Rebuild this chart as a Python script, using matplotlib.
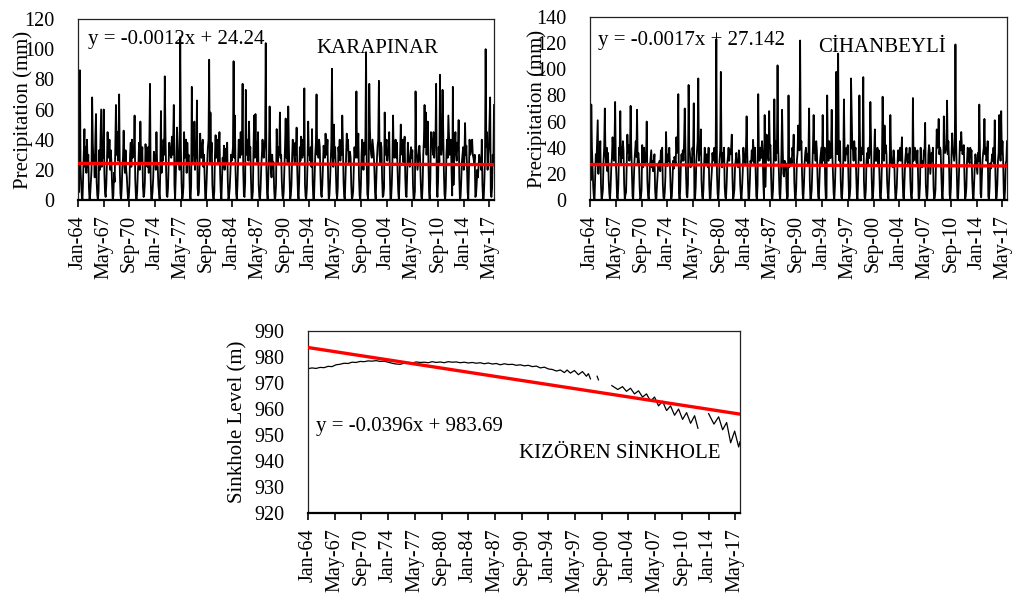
import numpy as np
import matplotlib
matplotlib.use("Agg")
import matplotlib.pyplot as plt

plt.rcParams['font.family'] = ['Liberation Serif', 'DejaVu Serif']

# ---------------- DATA ----------------
tick_labels = ["Jan-64", "May-67", "Sep-70", "Jan-74", "May-77", "Sep-80", "Jan-84",
               "May-87", "Sep-90", "Jan-94", "May-97", "Sep-00", "Jan-04", "May-07",
               "Sep-10", "Jan-14", "May-17"]
tick_step = 40  # months between labelled ticks

karapinar = [
    [57, 5, 30, 86, 20, 10, 2, 0, 15, 28, 47, 22],      # 1964
    [35, 18, 40, 22, 30, 8, 0, 4, 12, 20, 68, 38],
    [25, 30, 15, 42, 57, 12, 3, 0, 6, 33, 20, 40],
    [60, 22, 35, 28, 60, 18, 5, 2, 10, 25, 45, 30],
    [28, 40, 20, 33, 25, 10, 0, 3, 18, 12, 35, 63],
    [30, 45, 26, 38, 70, 20, 4, 0, 8, 22, 28, 46],
    [25, 18, 33, 20, 15, 6, 0, 2, 10, 30, 38, 22],
    [40, 28, 35, 30, 56, 14, 3, 0, 5, 18, 25, 38],
    [20, 52, 30, 25, 35, 9, 2, 4, 12, 37, 30, 26],
    [22, 35, 18, 40, 77, 15, 0, 1, 6, 15, 32, 28],
    [30, 20, 45, 25, 22, 10, 5, 0, 20, 59, 18, 35],
    [26, 40, 30, 82, 44, 20, 3, 2, 8, 25, 38, 30],
    [35, 28, 42, 30, 40, 63, 10, 0, 14, 30, 48, 36],
    [24, 30, 20, 108, 35, 12, 0, 2, 9, 45, 28, 33],
    [40, 18, 38, 26, 30, 22, 4, 0, 10, 75, 25, 40],
    [30, 52, 20, 35, 28, 66, 8, 3, 5, 22, 44, 30],
    [28, 36, 40, 22, 30, 15, 0, 1, 12, 25, 35, 40],
    [93, 25, 58, 30, 38, 10, 2, 0, 6, 30, 43, 28],
    [32, 40, 25, 32, 45, 18, 5, 0, 15, 28, 22, 36],
    [20, 34, 28, 25, 38, 12, 0, 3, 8, 18, 30, 26],
    [30, 35, 92, 28, 56, 20, 4, 0, 10, 25, 40, 30],
    [28, 45, 30, 40, 77, 20, 3, 2, 12, 73, 30, 35],
    [40, 26, 52, 30, 35, 14, 0, 1, 6, 35, 56, 28],
    [57, 32, 38, 25, 45, 10, 2, 0, 8, 22, 30, 40],
    [30, 28, 35, 40, 104, 22, 5, 0, 14, 30, 62, 35],
    [20, 15, 30, 22, 25, 8, 0, 2, 10, 47, 28, 25],
    [35, 30, 58, 28, 30, 12, 3, 0, 6, 20, 36, 54],
    [28, 40, 25, 62, 35, 15, 0, 3, 10, 28, 40, 32],
    [30, 25, 38, 30, 48, 20, 5, 0, 12, 35, 26, 42],
    [36, 28, 40, 30, 74, 10, 2, 1, 8, 25, 52, 30],
    [32, 26, 35, 22, 47, 12, 0, 0, 14, 30, 38, 70],
    [30, 38, 28, 40, 35, 18, 4, 2, 10, 22, 36, 30],
    [28, 44, 35, 30, 40, 15, 0, 3, 12, 26, 38, 87],
    [30, 22, 50, 28, 35, 20, 5, 1, 8, 35, 30, 40],
    [26, 35, 30, 56, 38, 12, 2, 0, 14, 28, 44, 33],
    [40, 25, 30, 32, 28, 10, 0, 2, 6, 22, 35, 28],
    [30, 72, 28, 35, 44, 15, 3, 0, 10, 30, 40, 32],
    [20, 38, 30, 42, 98, 25, 4, 1, 12, 77, 47, 35],
    [30, 28, 40, 35, 30, 20, 5, 0, 15, 28, 36, 40],
    [79, 30, 25, 38, 35, 14, 2, 3, 8, 58, 30, 36],
    [40, 26, 32, 30, 45, 18, 0, 1, 10, 25, 56, 30],
    [28, 35, 40, 28, 38, 20, 6, 0, 12, 30, 50, 32],
    [30, 40, 25, 35, 42, 15, 3, 2, 18, 38, 28, 26],
    [22, 30, 35, 28, 33, 10, 0, 1, 6, 72, 35, 30],
    [20, 25, 30, 36, 28, 12, 2, 0, 10, 30, 40, 63],
    [35, 58, 30, 40, 52, 25, 5, 0, 14, 45, 36, 40],
    [30, 45, 28, 38, 40, 77, 10, 2, 12, 35, 25, 83],
    [38, 30, 35, 73, 45, 20, 4, 0, 8, 30, 40, 28],
    [56, 42, 30, 35, 40, 18, 3, 75, 10, 28, 36, 45],
    [30, 26, 38, 33, 53, 15, 0, 2, 12, 25, 30, 35],
    [20, 28, 51, 30, 36, 22, 5, 0, 18, 40, 30, 32],
    [35, 40, 30, 28, 25, 30, 2, 3, 10, 20, 15, 22],
    [30, 25, 28, 20, 40, 10, 0, 1, 12, 28, 100, 35],
    [45, 20, 30, 35, 51, 68, 5, 2, 8, 30, 25, 63],      # 2017
]

cihanbeyli = [
    [30, 15, 73, 40, 25, 10, 2, 0, 18, 35, 28, 45],     # 1964
    [61, 20, 38, 30, 45, 12, 0, 3, 8, 30, 40, 70],
    [35, 28, 40, 22, 36, 15, 5, 0, 10, 25, 32, 48],
    [38, 30, 42, 75, 30, 18, 2, 1, 12, 40, 35, 68],
    [28, 40, 32, 45, 38, 12, 0, 4, 6, 28, 50, 36],
    [42, 30, 35, 72, 40, 20, 3, 0, 14, 30, 38, 45],
    [33, 69, 28, 36, 30, 10, 0, 2, 8, 42, 25, 30],
    [40, 28, 35, 30, 60, 15, 4, 0, 10, 26, 32, 38],
    [25, 30, 22, 29, 35, 8, 0, 1, 12, 20, 28, 24],
    [30, 22, 38, 28, 40, 12, 2, 0, 6, 18, 52, 30],
    [26, 35, 30, 40, 28, 10, 0, 3, 15, 30, 24, 33],
    [30, 28, 48, 36, 40, 81, 5, 0, 8, 28, 35, 30],
    [38, 30, 45, 70, 42, 20, 4, 2, 12, 88, 40, 36],
    [25, 32, 28, 40, 35, 74, 0, 1, 10, 30, 38, 45],
    [93, 30, 40, 35, 54, 15, 3, 0, 8, 26, 40, 32],
    [28, 35, 30, 25, 40, 12, 0, 2, 14, 22, 36, 30],
    [32, 40, 28, 36, 123, 20, 5, 0, 10, 30, 38, 98],
    [38, 25, 36, 30, 40, 10, 2, 1, 12, 28, 33, 40],
    [30, 38, 35, 40, 50, 18, 0, 3, 8, 25, 30, 36],
    [28, 30, 25, 38, 32, 12, 4, 0, 10, 22, 40, 30],
    [35, 28, 40, 64, 36, 15, 0, 2, 14, 30, 28, 38],
    [30, 46, 35, 28, 40, 20, 3, 0, 12, 81, 36, 30],
    [40, 32, 38, 45, 35, 12, 0, 65, 10, 28, 50, 36],
    [35, 30, 68, 40, 42, 18, 2, 1, 8, 30, 77, 38],
    [30, 45, 36, 103, 40, 22, 5, 0, 12, 35, 69, 40],
    [20, 18, 30, 25, 28, 8, 0, 3, 80, 25, 30, 26],
    [32, 28, 40, 35, 50, 14, 2, 0, 10, 30, 36, 57],
    [42, 38, 122, 40, 45, 20, 4, 1, 12, 28, 36, 40],
    [30, 35, 28, 38, 70, 15, 0, 2, 8, 25, 42, 65],
    [36, 40, 30, 45, 38, 18, 3, 0, 14, 30, 35, 40],
    [28, 65, 35, 30, 40, 12, 0, 2, 80, 36, 30, 45],
    [40, 32, 38, 69, 35, 20, 5, 0, 10, 28, 98, 42],
    [35, 112, 40, 30, 45, 15, 2, 1, 12, 30, 77, 38],
    [30, 36, 40, 35, 42, 18, 0, 3, 10, 93, 65, 40],
    [38, 30, 45, 36, 40, 20, 4, 0, 14, 35, 80, 42],
    [30, 40, 35, 38, 94, 15, 2, 1, 8, 30, 36, 28],
    [40, 32, 38, 75, 45, 18, 0, 2, 12, 36, 54, 30],
    [35, 30, 40, 28, 38, 20, 3, 0, 10, 30, 79, 45],
    [30, 57, 36, 42, 35, 14, 5, 1, 15, 28, 65, 38],
    [28, 30, 25, 38, 32, 12, 0, 3, 10, 26, 38, 30],
    [35, 40, 30, 36, 48, 18, 2, 0, 14, 30, 36, 40],
    [30, 28, 35, 32, 40, 15, 4, 1, 8, 78, 30, 36],
    [40, 35, 30, 28, 38, 20, 0, 2, 12, 40, 28, 25],
    [30, 26, 38, 35, 59, 12, 3, 0, 10, 35, 42, 38],
    [20, 28, 36, 30, 40, 10, 0, 2, 8, 30, 54, 40],
    [45, 62, 35, 40, 38, 20, 5, 0, 14, 64, 42, 36],
    [38, 40, 76, 35, 45, 30, 4, 1, 10, 36, 51, 40],
    [35, 30, 40, 119, 45, 25, 2, 0, 12, 30, 45, 38],
    [52, 40, 35, 38, 42, 18, 0, 3, 10, 30, 40, 36],
    [30, 28, 40, 35, 38, 15, 4, 0, 14, 26, 35, 30],
    [25, 20, 36, 30, 73, 40, 5, 2, 18, 30, 36, 40],
    [62, 35, 40, 30, 32, 45, 3, 0, 10, 28, 24, 30],
    [35, 30, 40, 28, 61, 20, 0, 2, 12, 30, 36, 65],
    [40, 30, 68, 35, 45, 30, 5, 0, 8, 28, 30, 45],      # 2017
]

# Sinkhole level observations (date, level in m); None = no record (gap)
sink_dates = [
    "1964-01", "1964-07", "1965-01", "1965-07", "1966-01", "1966-07", "1967-01", "1967-07",
    "1968-01", "1968-07", "1969-01", "1969-07", "1970-01", "1970-07", "1971-01", "1971-07",
    "1972-01", "1972-07", "1973-01", "1973-07", "1974-01", "1974-07", "1975-01", "1975-07",
    "1976-01", "1976-07", "1977-01", "1977-07", "1978-01", "1978-07", "1979-01", "1979-07",
    "1980-01", "1980-07", "1981-01", "1981-07", "1982-01", "1982-07", "1983-01", "1983-07",
    "1984-01", "1984-07", "1985-01", "1985-07", "1986-01", "1986-07", "1987-01", "1987-07",
    "1988-01", "1988-07", "1989-01", "1989-07", "1990-01", "1990-07", "1991-01", "1991-07",
    "1992-01", "1992-07", "1993-01", "1993-07", "1994-01", "1994-07", "1995-01", "1995-07",
    "1996-01", "1996-05", "1996-10", "1997-04", "1997-10", "1998-04", "1998-10", "1999-01",
    "1999-04", "1999-05",
    "2000-02", "2000-04", "2000-05",
    "2001-12", "2002-09", "2003-04", "2003-10", "2004-04", "2004-10", "2005-04", "2005-10",
    "2006-04", "2006-10", "2007-04", "2007-10", "2008-04", "2008-10", "2009-04", "2009-10",
    "2010-04", "2010-10", "2011-04", "2011-10", "2012-04", "2012-09", "2013-01",
    "2014-01", "2014-09", "2015-04", "2015-10", "2016-04", "2016-10", "2017-04", "2017-10",
    "2017-12",
]
sink_level = [
    975.5, 975.8, 975.6, 976.0, 975.9, 976.4, 976.3, 977.0,
    977.2, 977.6, 977.5, 978.0, 977.9, 978.3, 978.2, 978.5,
    978.4, 978.6, 978.3, 978.4, 978.0, 977.6, 977.3, 977.2,
    977.6, 977.9, 977.7, 978.1, 977.9, 978.0, 977.8, 978.2,
    977.9, 978.1, 977.8, 978.2, 978.0, 978.1, 977.8, 978.0,
    977.7, 977.9, 977.6, 977.8, 977.4, 977.7, 977.3, 977.5,
    977.0, 977.4, 977.1, 977.2, 976.8, 977.0, 976.6, 976.8,
    976.3, 976.5, 975.8, 976.1, 975.4, 975.2, 974.6, 975.0,
    974.0, 975.0, 973.8, 974.8, 973.2, 974.4, 972.6, 973.6,
    971.6, None,
    972.6, 971.2, None,
    969.0, 967.5, 968.6, 966.8, 968.0, 965.8, 967.0, 964.6,
    965.8, 963.0, 964.6, 961.2, 963.0, 959.4, 961.2, 957.6,
    960.0, 956.0, 958.6, 954.5, 957.4, 952.6, None,
    958.2, 954.2, 957.0, 952.0, 954.8, 947.0, 951.5, 945.4,
    947.4,
]

# Trendline equations shown on the chart (x = month number, 1-based)
trend_k = (-0.0012, 24.24)
trend_c = (-0.0017, 27.142)
trend_s = (-0.0396, 983.69)

# ---------------- PLOTTING ----------------
kar = np.array(karapinar, dtype=float).ravel()
cih = np.array(cihanbeyli, dtype=float).ravel()
n = kar.size
xi = np.arange(n)

sx = np.array([(int(d[:4]) - 1964) * 12 + int(d[5:7]) - 1 for d in sink_dates])
sy = np.array([np.nan if v is None else v for v in sink_level])

W, H = 1013, 595
fig = plt.figure(figsize=(W / 100, H / 100), dpi=100)

def ax_rect(l, t, r, b):
    return [l / W, 1 - b / H, (r - l) / W, (b - t) / H]

FS_T = 14.5
FS_A = 15

def style(ax, ylim, ystep, ylabel, lab_x):
    ax.set_xlim(0, n - 1)
    ax.set_ylim(*ylim)
    ax.set_yticks(np.arange(ylim[0], ylim[1] + 0.1, ystep))
    ticks = np.arange(0, n, tick_step)
    ax.set_xticks(ticks)
    ax.set_xticklabels(tick_labels[:len(ticks)], rotation=90, fontsize=FS_T)
    ax.tick_params(axis='y', length=0, pad=17, labelsize=FS_T)
    ax.tick_params(axis='x', length=5, width=1.2, direction='out', pad=6)
    for s in ax.spines.values():
        s.set_linewidth(0.9)
        s.set_color('#222222')
    ax.spines['bottom'].set_linewidth(1.6)
    ax.spines['bottom'].set_color('black')
    ax.set_ylabel(ylabel, fontsize=FS_A, va='center')
    ax.yaxis.set_label_coords(lab_x, 0.5)

# Karapinar
ax1 = fig.add_axes(ax_rect(78, 19, 494, 200))
ax1.plot(xi, kar, color='black', lw=1.3, zorder=2)
ax1.plot(xi, trend_k[0] * (xi + 1) + trend_k[1], color='#ff0000', lw=2.4, zorder=3)
style(ax1, (0, 120), 20, 'Precipitation (mm)', -0.133)
ax1.text(10 / 416, 1 - 20 / 181, "y = -0.0012x + 24.24", transform=ax1.transAxes,
         fontsize=FS_A, va='center', ha='left')
ax1.text(238 / 416, 1 - 29 / 181, "KARAPINAR", transform=ax1.transAxes,
         fontsize=FS_A, va='center', ha='left')

# Cihanbeyli
ax2 = fig.add_axes(ax_rect(590, 17, 1007, 200))
ax2.plot(xi, cih, color='black', lw=1.3, zorder=2)
ax2.plot(xi, trend_c[0] * (xi + 1) + trend_c[1], color='#ff0000', lw=2.4, zorder=3)
style(ax2, (0, 140), 20, 'Precipitation (mm)', -0.127)
ax2.text(8 / 417, 1 - 23 / 183, "y = -0.0017x + 27.142", transform=ax2.transAxes,
         fontsize=FS_A, va='center', ha='left')
ax2.text(228 / 417, 1 - 30 / 183, "CİHANBEYLİ", transform=ax2.transAxes,
         fontsize=FS_A, va='center', ha='left')

# Sinkhole
ax3 = fig.add_axes(ax_rect(308, 331, 740, 513))
ax3.plot(sx, sy, color='black', lw=0.9, zorder=2)
ax3.plot(xi, trend_s[0] * (xi + 1) + trend_s[1], color='#ff0000', lw=2.4, zorder=3)
style(ax3, (920, 990), 10, 'Sinkhole Level (m)', -0.163)
ax3.text(8 / 432, 1 - 96 / 182, "y = -0.0396x + 983.69", transform=ax3.transAxes,
         fontsize=FS_A, va='center', ha='left')
ax3.text(211 / 432, 1 - 123 / 182, "KIZÖREN SİNKHOLE", transform=ax3.transAxes,
         fontsize=FS_A, va='center', ha='left')

fig.savefig("out.png", dpi=100)
